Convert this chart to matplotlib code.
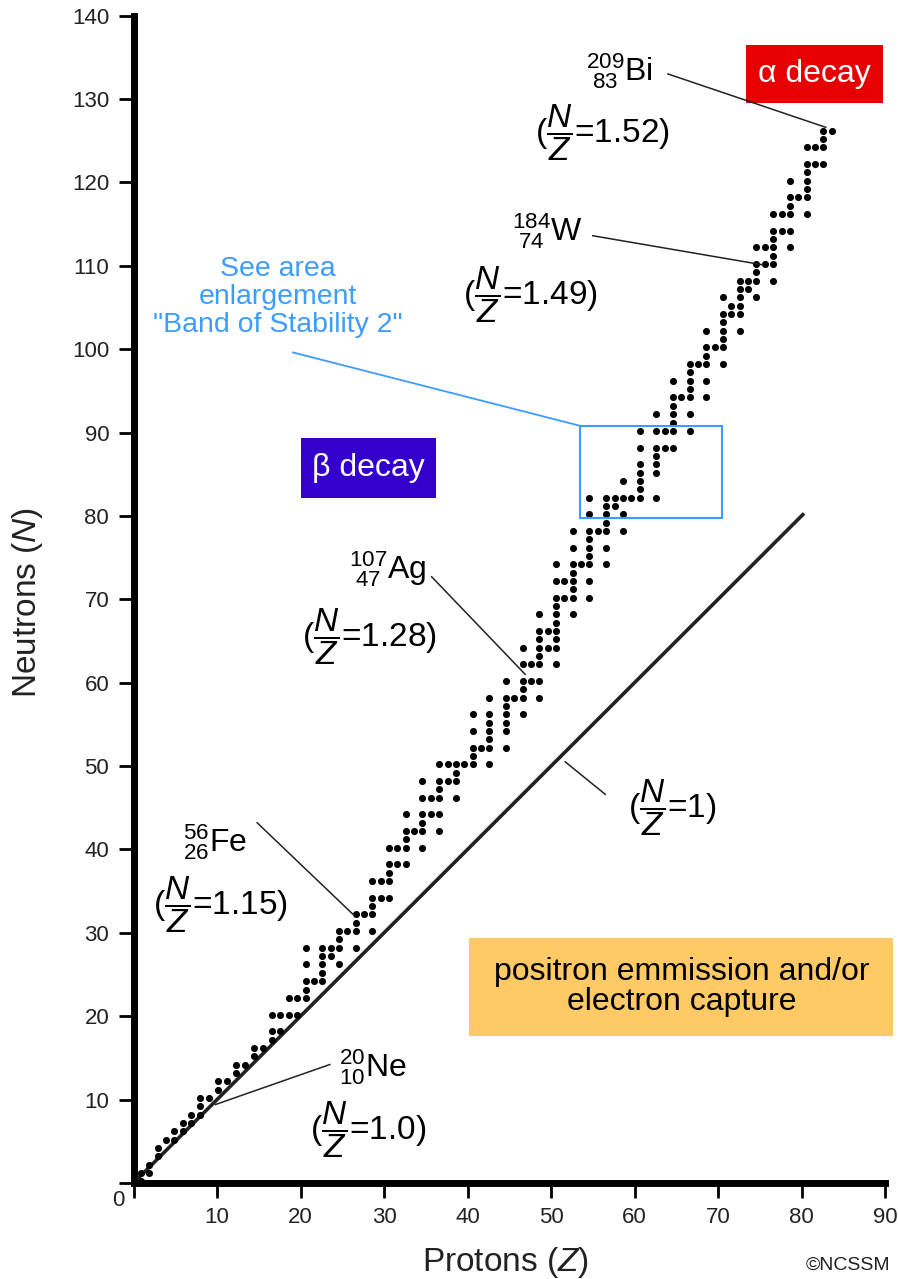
import numpy as np
import matplotlib
matplotlib.use('Agg')
import matplotlib.pyplot as plt
from matplotlib.patches import Rectangle

plt.rcParams['font.family'] = ['Liberation Sans', 'DejaVu Sans']
plt.rcParams['mathtext.fontset'] = 'custom'
plt.rcParams['mathtext.rm'] = 'Liberation Sans'
plt.rcParams['mathtext.it'] = 'Liberation Sans:italic'
plt.rcParams['mathtext.bf'] = 'Liberation Sans:bold'

# stable nuclides: (Z, neutron numbers)
stable_isotopes = [
    (1, [0, 1]), (2, [1, 2]), (3, [3, 4]), (4, [5]), (5, [5, 6]), (6, [6, 7]),
    (7, [7, 8]), (8, [8, 9, 10]), (9, [10]), (10, [11, 12]), (11, [12]),
    (12, [13, 14]), (13, [14]), (14, [15, 16]), (15, [16]), (16, [17, 18, 20]),
    (17, [18, 20]), (18, [20, 22]), (19, [20, 22]), (20, [22, 23, 24, 26, 28]),
    (21, [24]), (22, [24, 25, 26, 27, 28]), (23, [27, 28]), (24, [26, 28, 29, 30]),
    (25, [30]), (26, [28, 30, 31, 32]), (27, [32]), (28, [30, 32, 33, 34, 36]),
    (29, [34, 36]), (30, [34, 36, 37, 38, 40]), (31, [38, 40]),
    (32, [38, 40, 41, 42, 44]), (33, [42]), (34, [40, 42, 43, 44, 46, 48]),
    (35, [44, 46]), (36, [42, 44, 46, 47, 48, 50]), (37, [48, 50]),
    (38, [46, 48, 49, 50]), (39, [50]), (40, [50, 51, 52, 54, 56]), (41, [52]),
    (42, [50, 52, 53, 54, 55, 56, 58]), (44, [52, 54, 55, 56, 57, 58, 60]),
    (45, [58]), (46, [56, 58, 59, 60, 62, 64]), (47, [60, 62]),
    (48, [58, 60, 62, 63, 64, 65, 66, 68]), (49, [64, 66]),
    (50, [62, 64, 65, 66, 67, 68, 69, 70, 72, 74]), (51, [70, 72]),
    (52, [68, 70, 71, 72, 73, 74, 76, 78]), (53, [74]),
    (54, [70, 72, 74, 75, 76, 77, 78, 80, 82]), (55, [78]),
    (56, [74, 76, 78, 79, 80, 81, 82]), (57, [81, 82]), (58, [78, 80, 82, 84]),
    (59, [82]), (60, [82, 83, 84, 85, 86, 88, 90]),
    (62, [82, 85, 86, 87, 88, 90, 92]), (63, [88, 90]),
    (64, [88, 90, 91, 92, 93, 94, 96]), (65, [94]),
    (66, [90, 92, 94, 95, 96, 97, 98]), (67, [98]),
    (68, [94, 96, 98, 99, 100, 102]), (69, [100]),
    (70, [98, 100, 101, 102, 103, 104, 106]), (71, [104, 105]),
    (72, [102, 104, 105, 106, 107, 108]), (73, [107, 108]),
    (74, [106, 108, 109, 110, 112]), (75, [110, 112]),
    (76, [108, 110, 111, 112, 113, 114, 116]), (77, [114, 116]),
    (78, [112, 114, 116, 117, 118, 120]), (79, [118]),
    (80, [116, 118, 119, 120, 121, 122, 124]), (81, [122, 124]),
    (82, [122, 124, 125, 126]), (83, [126]),
]

nz_line = [0, 80.3]

# labelled nuclides: text, label pos, ratio text, ratio pos, leader start, leader end
nuclide_text = [r'${}^{209}_{\ 83}$Bi', r'${}^{184}_{\ 74}$W', r'${}^{107}_{\ 47}$Ag',
                r'${}^{56}_{26}$Fe', r'${}^{20}_{10}$Ne']
nuclide_pos = [(58.2, 133.4), (49.5, 114.2), (30.5, 73.6), (9.8, 40.9), (28.6, 13.9)]
ratio_text = ['1.52', '1.49', '1.28', '1.15', '1.0']
ratio_pos = [(56.1, 126.0), (47.5, 106.5), (28.3, 65.5), (10.4, 33.4), (28.1, 6.4)]
leader_from = [(64.0, 133.0), (55.0, 113.6), (35.7, 72.7), (14.8, 43.2), (23.5, 14.2)]
leader_to = [(82.9, 126.6), (75.4, 110.1), (46.9, 61.0), (26.3, 32.2), (9.8, 9.4)]

fig = plt.figure(figsize=(8.98, 12.79), dpi=100)
ax = fig.add_axes([0.1487, 0.0751, 0.8369, 0.9127])
ax.set_xlim(0, 90)
ax.set_ylim(0, 140)

for side in ['top', 'right']:
    ax.spines[side].set_visible(False)
for side in ['left', 'bottom']:
    ax.spines[side].set_linewidth(5)
    ax.spines[side].set_color('black')

ax.set_xticks(np.arange(0, 91, 10))
ax.set_xticklabels([''] + [str(v) for v in range(10, 91, 10)])
ax.set_yticks(np.arange(0, 141, 10))
ax.set_yticklabels([''] + [str(v) for v in range(10, 141, 10)])
ax.tick_params(axis='both', direction='out', width=2, length=10.5,
               labelsize=16, pad=7, colors='black', labelcolor='#222222')

# dots of the band of stability (small shift to sit like the drawing)
Zs, Ns = [], []
for z, nlist in stable_isotopes:
    for n in nlist:
        Zs.append(z)
        Ns.append(n)
Zs = np.array(Zs, dtype=float)
Ns = np.array(Ns, dtype=float)
shift = np.clip(0.08 * (Zs - 8) - 0.1, -0.1, 0.6)
ax.scatter(Zs + shift, Ns + 0.2, s=26, c='black', linewidths=0, zorder=3, clip_on=False)

# N = Z line
ax.plot(nz_line, nz_line, color='#222222', lw=2.6, solid_capstyle='butt', zorder=2)

for i in range(len(nuclide_text)):
    ax.text(*nuclide_pos[i], nuclide_text[i], fontsize=23, ha='center', va='center')
    ax.text(*ratio_pos[i], r'($\dfrac{N}{Z}$=' + ratio_text[i] + ')', fontsize=24,
            ha='center', va='center')
    ax.plot([leader_from[i][0], leader_to[i][0]], [leader_from[i][1], leader_to[i][1]],
            color='#222222', lw=1.1, zorder=4)

# N/Z = 1 label
ax.text(64.5, 45.0, r'($\dfrac{N}{Z}$=1)', fontsize=24, ha='center', va='center')
ax.plot([56.5, 51.7], [46.6, 50.5], color='#222222', lw=1.1)

# enlargement hint
ax.text(17.3, 106.2, 'See area\nenlargement\n"Band of Stability 2"', fontsize=20.5,
        color='#3d9cff', ha='center', va='center', linespacing=1.1)
ax.plot([19.1, 53.5], [99.6, 90.8], color='#3d9cff', lw=1.3)
ax.add_patch(Rectangle((53.5, 79.8), 17.0, 11.0, fill=False, edgecolor='#3d9cff', lw=1.5, zorder=4))

# decay mode boxes
ax.add_patch(Rectangle((73.4, 129.5), 16.3, 7.0, facecolor='#e60000', edgecolor='none', clip_on=False))
ax.text(81.55, 133.0, 'α decay', fontsize=23, color='white', ha='center', va='center')

ax.add_patch(Rectangle((20.1, 82.2), 16.1, 7.1, facecolor='#3300cc', edgecolor='none'))
ax.text(28.15, 85.8, 'β decay', fontsize=23, color='white', ha='center', va='center')

ax.add_patch(Rectangle((40.2, 17.6), 50.8, 11.8, facecolor='#ffc966', edgecolor='none', clip_on=False))
ax.text(65.6, 23.5, 'positron emmission and/or\nelectron capture', fontsize=23,
        color='black', ha='center', va='center', linespacing=1.0, clip_on=False)

# axis labels and corner texts
fig.text(28 / 898, 1 - 602 / 1279, 'Neutrons ($N$)', fontsize=24, rotation=90,
         ha='center', va='center', color='#222222')
fig.text(505 / 898, 1 - 1262 / 1279, 'Protons ($Z$)', fontsize=24,
         ha='center', va='center', color='#222222')
fig.text(118 / 898, 1 - 1200 / 1279, '0', fontsize=16, ha='center', va='center', color='#222222')
fig.text(848 / 898, 1 - 1257 / 1279, '©NCSSM', fontsize=14, ha='center', va='top', color='#222222')

fig.savefig('out.png', dpi=100)
